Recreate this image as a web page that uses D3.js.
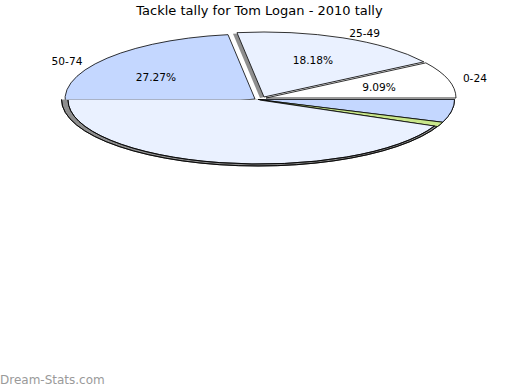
<!DOCTYPE html>
<html>
<head>
<meta charset="utf-8">
<script src="https://cdn.jsdelivr.net/npm/d3@7"></script>
<style>
	body { margin: 0; background: #fff; }
	svg { display: block; font-family: "DejaVu Sans", sans-serif; }
</style>
</head>
<body>
<div id="chart"></div>
<script>
// slices, counter-clockwise from 3 o'clock
const categories = ['0-24', '25-49', '50-74']
const shares = [9.09, 18.18, 27.27]
const restShare = 45.46
const sliceColors = ['#ffffff', '#eaf1ff', '#c4d7ff']

// the front (lower) half as it is drawn, clockwise from 3 o'clock, in degrees
const frontShares = [20, 4, 156]
const frontColors = ['#c4d7ff', '#c9e78b', '#eaf1ff']
const sideColors = ['#c4d7ff', '#c9e78b', '#8e8e8e']

const width = 520, height = 390
const cx = 261, cy = 99, rx = 190, ry = 65
const R = 100
const sliceShift = [[5, -1], [3, -2], [-6, 0]]
const drawOrder = [2, 0, 1]

const svg = d3.select('#chart')
	.append('svg')
	.attr('width', width)
	.attr('height', height)

svg.append('text')
	.attr('x', 259.5)
	.attr('y', 10)
	.attr('text-anchor', 'middle')
	.attr('dominant-baseline', 'central')
	.attr('font-size', 13)
	.attr('fill', '#000')
	.text('Tackle tally for Tom Logan - 2010 tally')

const arc = d3.arc().innerRadius(0).outerRadius(R)
const rim = d3.arc().innerRadius(R).outerRadius(R)

const pie = d3.pie()
	.sort(null)
	.startAngle(Math.PI / 2)
	.endAngle(Math.PI / 2 - 2 * Math.PI)
const arcs = pie(shares.concat([restShare])).slice(0, categories.length)

const frontPie = d3.pie()
	.sort(null)
	.startAngle(Math.PI / 2)
	.endAngle(Math.PI * 1.5)
const frontArcs = frontPie(frontShares)

// outer (side) ellipse and inner (face) ellipse of the front half
const outer = { x: 258, y: 99.5, rx: 196.5, ry: 66.5 }
const inner = { x: 259.5, y: 100, rx: 191.5, ry: 64 }
const greenSide = 18 * Math.PI / 180

const tf = (o, dx = 0, dy = 0) => `translate(${o.x + dx},${o.y + dy}) scale(${o.rx / R},${o.ry / R})`

function styleLine(sel) {
	return sel.attr('stroke', '#000')
		.attr('stroke-width', 0.8)
		.attr('vector-effect', 'non-scaling-stroke')
		.attr('stroke-linejoin', 'round')
}

// top slices
const topG = svg.append('g')
drawOrder.forEach(i => {
	const d = arcs[i]
	const o = { x: cx + sliceShift[i][0], y: cy + sliceShift[i][1], rx: rx, ry: ry }
	if (i === 1) {
		topG.append('path')
			.attr('d', arc(d))
			.attr('transform', tf(o, -4, 1))
			.attr('fill', '#8e8e8e')
	}
	topG.append('path')
		.attr('d', arc(d))
		.attr('transform', tf(o))
		.attr('fill', sliceColors[i])
		.call(styleLine)
})

// front half: side walls first
const frontG = svg.append('g')
frontArcs.forEach((d, i) => {
	const side = i === 1 ? { startAngle: d.startAngle, endAngle: d.endAngle + greenSide } : d
	frontG.append('path')
		.attr('d', arc(side))
		.attr('transform', tf(outer))
		.attr('fill', sideColors[i])
		.attr('stroke', 'none')
})
frontG.append('path')
	.attr('d', rim({ startAngle: Math.PI / 2, endAngle: Math.PI * 1.5 }))
	.attr('transform', tf(outer))
	.attr('fill', 'none')
	.call(styleLine)

// blue and green faces reach the outer rim
frontArcs.slice(0, 2).forEach((d, i) => {
	frontG.append('path')
		.attr('d', arc(d))
		.attr('transform', tf(outer))
		.attr('fill', frontColors[i])
		.call(styleLine)
})

// big light face
const face = frontArcs[2]
frontG.append('path')
	.attr('d', arc(face))
	.attr('transform', tf(inner))
	.attr('fill', frontColors[2])
frontG.append('path')
	.attr('d', rim(face))
	.attr('transform', tf(inner))
	.attr('fill', 'none')
	.call(styleLine)
frontG.append('line')
	.attr('x1', inner.x)
	.attr('y1', inner.y)
	.attr('x2', inner.x + inner.rx * Math.sin(face.startAngle))
	.attr('y2', inner.y - inner.ry * Math.cos(face.startAngle))
	.attr('stroke', '#000')
	.attr('stroke-width', 0.8)

// labels
const mid = d => (d.startAngle + d.endAngle) / 2
const labels = svg.append('g').attr('font-size', 10.6).attr('fill', '#000')

labels.selectAll('text.pct')
	.data(arcs)
	.enter()
	.append('text')
	.attr('x', (d, i) => cx + sliceShift[i][0] + 0.62 * rx * Math.sin(mid(d)))
	.attr('y', (d, i) => cy + sliceShift[i][1] - 0.62 * ry * Math.cos(mid(d)))
	.attr('text-anchor', 'middle')
	.attr('dominant-baseline', 'central')
	.text(d => d.value.toFixed(2) + '%')

labels.selectAll('text.cat')
	.data(arcs)
	.enter()
	.append('text')
	.attr('x', (d, i) => cx + sliceShift[i][0] + 1.08 * rx * Math.sin(mid(d)))
	.attr('y', (d, i) => cy + sliceShift[i][1] - 1.08 * ry * Math.cos(mid(d)))
	.attr('text-anchor', d => Math.sin(mid(d)) > 0 ? 'start' : 'end')
	.attr('dominant-baseline', 'central')
	.text((d, i) => categories[i])

svg.append('text')
	.attr('x', 0)
	.attr('y', 380)
	.attr('dominant-baseline', 'central')
	.attr('font-size', 12)
	.attr('fill', '#9a9a9a')
	.text('Dream-Stats.com')
</script>
</body>
</html>
